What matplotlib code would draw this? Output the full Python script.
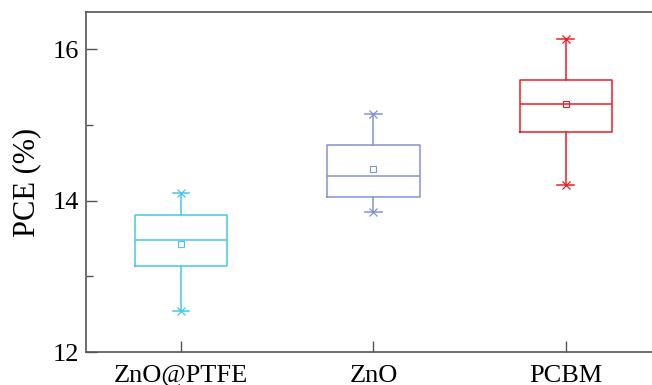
import numpy as np
import matplotlib.pyplot as plt
from matplotlib.ticker import MultipleLocator

# Data ==============================================

groups = ["ZnO@PTFE", "ZnO", "PCBM"]
whislo = [12.54, 13.85, 14.21]
q1 = [13.14, 14.05, 14.91]
med = [13.48, 14.32, 15.28]
q3 = [13.81, 14.73, 15.59]
whishi = [14.10, 15.14, 16.14]
means = [13.43, 14.42, 15.27]
colors = ["#45c8ee", "#8293d2", "#ec1c24"]

plt.rcParams["font.family"] = ["Liberation Serif", "DejaVu Serif"]

fig = plt.figure(figsize=(6.52, 3.85), dpi=100)
ax = fig.add_axes([0.132, 0.0857, 0.883, 0.883])

pos = np.arange(1, len(groups) + 1)
for i in range(len(groups)):
    st = [dict(whislo=whislo[i], q1=q1[i], med=med[i], q3=q3[i],
               whishi=whishi[i], mean=means[i])]
    c = colors[i]
    lw = 1.1
    ax.bxp(st, positions=[pos[i]], widths=0.48, showmeans=True, showfliers=False,
           capwidths=0.085,
           boxprops=dict(color=c, linewidth=lw),
           whiskerprops=dict(color=c, linewidth=lw),
           capprops=dict(color=c, linewidth=lw),
           medianprops=dict(color=c, linewidth=lw),
           meanprops=dict(marker="s", markerfacecolor="none",
                          markeredgecolor=c, markersize=4, markeredgewidth=0.8))
    ax.plot([pos[i], pos[i]], [whislo[i], whishi[i]], linestyle="none",
            marker="x", color=c, markersize=6, markeredgewidth=0.9)

ax.set_xlim(0.505, 3.5)
ax.set_ylim(12, 16.49)
ax.set_xticks(pos)
ax.set_xticklabels(groups, fontsize=19)
ax.yaxis.set_major_locator(MultipleLocator(2))
ax.yaxis.set_minor_locator(MultipleLocator(1))
ax.tick_params(axis="y", labelsize=19)
ax.tick_params(which="both", direction="in", color="#555555", width=1.0)
ax.tick_params(which="major", length=8, pad=5)
ax.tick_params(which="minor", length=5)
ax.tick_params(axis="x", pad=9)
ax.set_ylabel("PCE (%)", fontsize=22, labelpad=8)
for s in ax.spines.values():
    s.set_color("#555555")
    s.set_linewidth(1.2)

fig.savefig("out.png", dpi=100)
plt.close()
